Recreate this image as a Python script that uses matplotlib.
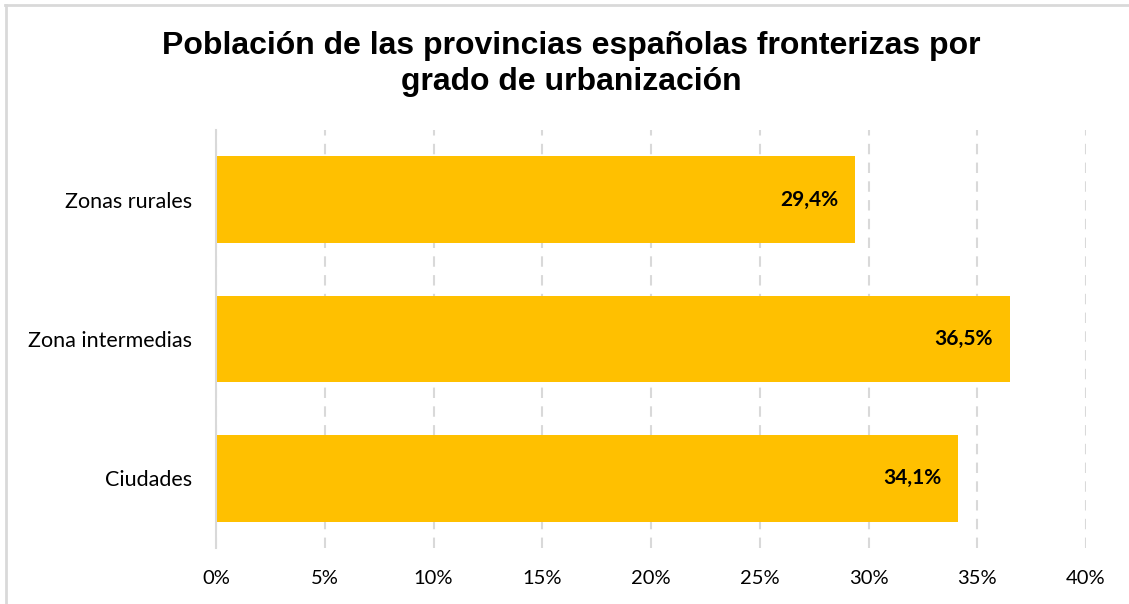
import matplotlib
matplotlib.use("Agg")
import matplotlib.pyplot as plt
from matplotlib.lines import Line2D

categories = ["Zonas rurales", "Zona intermedias", "Ciudades"]
values = [29.4, 36.5, 34.1]
value_labels = ["29,4%", "36,5%", "34,1%"]
xticks = [0, 5, 10, 15, 20, 25, 30, 35, 40]
xtick_labels = ["0%", "5%", "10%", "15%", "20%", "25%", "30%", "35%", "40%"]
title = "Población de las provincias españolas fronterizas por\ngrado de urbanización"

W, H = 1129, 604
fig = plt.figure(figsize=(W / 100, H / 100), dpi=100)
ax = fig.add_axes([216 / W, 1 - 548 / H, (1086 - 216) / W, (548 - 130) / H])

ypos = list(range(len(categories)))
ax.barh(ypos, values, height=0.62, color="#FFC000", zorder=3)
ax.set_ylim(len(categories) - 0.5, -0.5)
ax.set_xlim(0, 40)

for y, v, lab in zip(ypos, values, value_labels):
    ax.annotate(lab, xy=(v, y), xytext=(-12, 0), textcoords="offset points",
                ha="right", va="center", fontsize=15, fontweight="bold",
                family="Lato", color="black", zorder=4)

ax.set_xticks(xticks)
ax.set_xticklabels(xtick_labels, family="Lato", fontsize=14.5)
ax.set_yticks(ypos)
ax.set_yticklabels(categories, family="Lato", fontsize=15.5)
ax.tick_params(axis="both", length=0)
ax.tick_params(axis="x", pad=16)
ax.tick_params(axis="y", pad=17)

ax.grid(axis="x", color="#D9D9D9", linestyle=(0, (5, 4)), linewidth=1.5, zorder=0)
ax.grid(axis="y", visible=False)
for s in ["top", "right", "bottom"]:
    ax.spines[s].set_visible(False)
ax.spines["left"].set_color("#D9D9D9")
ax.spines["left"].set_linewidth(1.5)
ax.spines["left"].set_zorder(5)

fig.text(571 / W, 1 - 64 / H, title, ha="center", va="center", fontsize=23,
         fontweight="bold", family="Liberation Sans", linespacing=1.25)

# chart border (top and left visible)
fig.add_artist(Line2D([5 / W, 1], [1 - 4.5 / H, 1 - 4.5 / H], transform=fig.transFigure,
                      color="#D9D9D9", linewidth=2))
fig.add_artist(Line2D([5.5 / W, 5.5 / W], [0, 1 - 4.5 / H], transform=fig.transFigure,
                      color="#D9D9D9", linewidth=2))

fig.savefig("out.png", dpi=100)
